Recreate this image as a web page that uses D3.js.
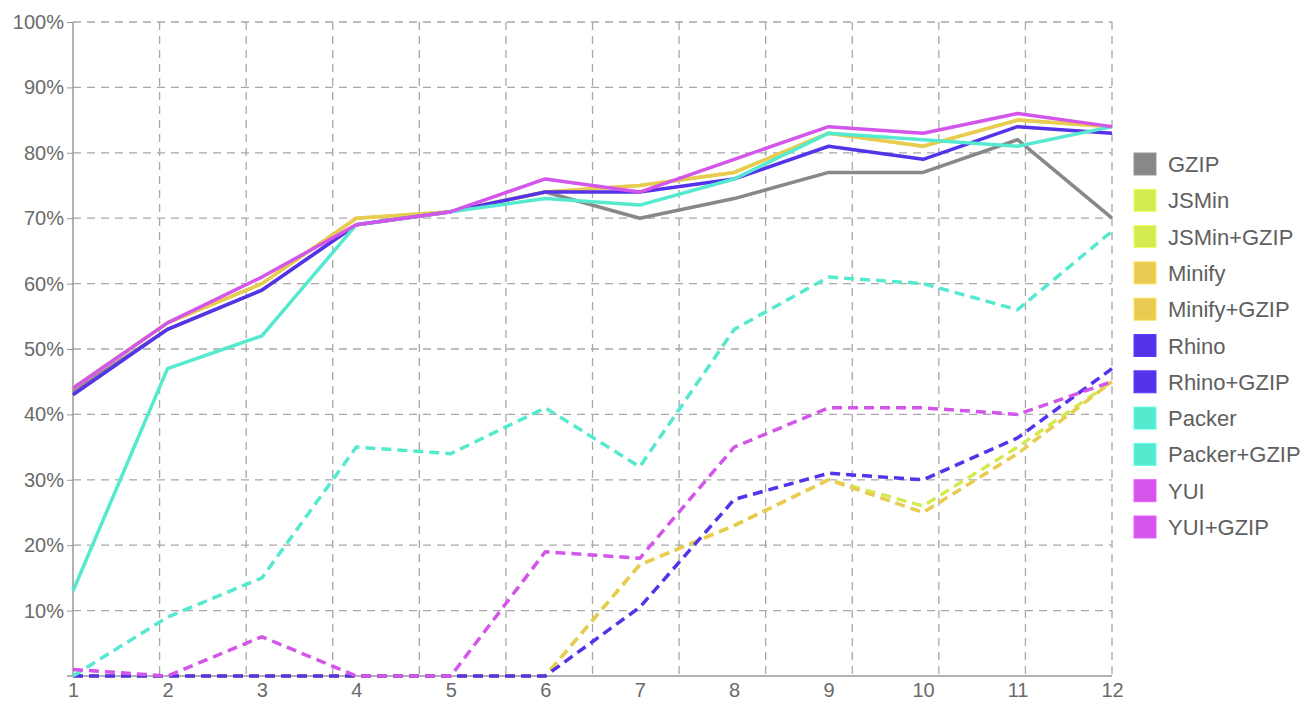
<!DOCTYPE html>
<html><head><meta charset="utf-8">
<script src="https://cdn.jsdelivr.net/npm/d3@7"></script>
<style>body{margin:0;background:#fff;font-family:"Liberation Sans",Arial,sans-serif}</style>
</head><body><svg id="c" width="1308" height="704"></svg>
<script>
const xLabels = [1,2,3,4,5,6,7,8,9,10,11,12];
const yTicks = [10,20,30,40,50,60,70,80,90,100];
const seriesNames = ["GZIP","JSMin","JSMin+GZIP","Minify","Minify+GZIP","Rhino","Rhino+GZIP","Packer","Packer+GZIP","YUI","YUI+GZIP"];
const seriesColors = ["#888888","#d3ea50","#d3ea50","#e8cb50","#e8cb50","#5533ea","#5533ea","#55eacf","#55eacf","#d355ea","#d355ea"];
const seriesDashed = [false,false,true,false,true,false,true,false,true,false,true];
const gzip        = [43.5,53,59,69,71,74,70,73,77,77,82,70];
const jsmin       = [44,54,60,70,71,74,75,77,83,81,85,84];
const jsminGzip   = [0,0,0,0,0,0,17,23,30,26,35,45];
const minify      = [44,54,60,70,71,74,75,77,83,81,85,84];
const minifyGzip  = [0,0,0,0,0,0,17,23,30,25,34,45];
const rhino       = [43,53,59,69,71,74,74,76,81,79,84,83];
const rhinoGzip   = [0,0,0,0,0,0,10.5,27,31,30,36.4,47];
const packer      = [13,47,52,69,71,73,72,76,83,82,81,84];
const packerGzip  = [0,9,15,35,34,41,32,53,61,60,56,68];
const yui         = [44,54,61,69,71,76,74,79,84,83,86,84];
const yuiGzip     = [1,0,6,0,0,19,18,35,41,41,40,45];
const seriesValues = [gzip,jsmin,jsminGzip,minify,minifyGzip,rhino,rhinoGzip,packer,packerGzip,yui,yuiGzip];

const svg = d3.select("#c");
const L = 73, R = 1112, T = 22, B = 676;
const x = d3.scaleLinear().domain([1,12]).range([L,R]);
const y = d3.scaleLinear().domain([0,100]).range([B,T]);
const xg = d3.scaleLinear().domain([0,12]).range([L,R]);

// grid
const g = svg.append("g");
g.selectAll("line.h").data(yTicks).join("line")
  .attr("x1",L).attr("x2",R).attr("y1",d=>y(d)).attr("y2",d=>y(d))
  .attr("stroke","#a8a8a8").attr("stroke-width",1.3).attr("stroke-dasharray","8,6");
g.selectAll("line.v").data(d3.range(1,13)).join("line")
  .attr("y1",T).attr("y2",B).attr("x1",d=>xg(d)).attr("x2",d=>xg(d))
  .attr("stroke","#a8a8a8").attr("stroke-width",1.3).attr("stroke-dasharray","8,6");

// axes
const ya = svg.append("g").attr("transform",`translate(${L},0)`)
  .call(d3.axisLeft(y).tickValues(yTicks).tickFormat(d=>d+"%").tickSize(6).tickPadding(3));
const xa = svg.append("g").attr("transform",`translate(0,${B})`)
  .call(d3.axisBottom(x).tickValues(xLabels).tickSize(0).tickPadding(7));
[ya,xa].forEach(a=>{
  a.select(".domain").attr("stroke","#999").attr("stroke-width",1.5);
  a.selectAll(".tick line").attr("stroke","#999");
  a.selectAll("text").attr("fill","#6a6a6a").style("font-size","20px").style("font-family","'Liberation Sans',Arial,sans-serif");
});
ya.select(".domain").attr("d",`M0,${T}V${B}`);
xa.select(".domain").attr("d",`M${L-6},0H${R}`);

// lines
const line = d3.line().x((d,i)=>x(xLabels[i])).y(d=>y(d));
const order = [0,1,3,5,7,9,2,4,6,8,10];
order.forEach(i=>{
  svg.append("path").attr("d",line(seriesValues[i]))
    .attr("fill","none").attr("stroke",seriesColors[i]).attr("stroke-width",3.5)
    .attr("stroke-linejoin","round")
    .attr("stroke-dasharray",seriesDashed[i]?"10,6":null);
});

// legend
const lg = svg.append("g");
seriesNames.forEach((n,i)=>{
  const yy = 153 + i*36.3;
  lg.append("rect").attr("x",1134).attr("y",yy).attr("width",22).attr("height",22)
    .attr("fill",seriesColors[i]).attr("stroke",d3.color(seriesColors[i]).brighter(0.3)).attr("stroke-width",1);
  lg.append("text").attr("x",1168).attr("y",yy+19).text(n)
    .attr("fill","#606060").style("font-size","22px");
});
</script></body></html>
